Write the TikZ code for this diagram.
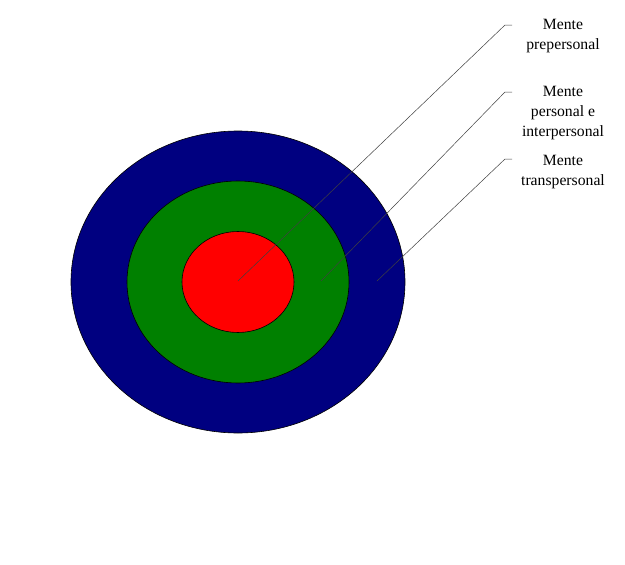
\documentclass[tikz,border=0pt]{standalone}
\usepackage{fontspec}
\setmainfont{Liberation Serif}
\usepackage{xcolor}
\definecolor{navyring}{RGB}{0,0,128}
\definecolor{greenring}{RGB}{0,128,0}
\definecolor{redring}{RGB}{255,0,0}
\begin{document}
\begin{tikzpicture}[x=1pt, y=-1pt, thin]

		\tikzset{
			ring/.style={draw=black, line width=0.6pt},
			leader/.style={draw=black!75, line width=0.5pt},
			label/.style={align=center, inner sep=0pt, anchor=base, font=\fontsize{15.7}{20}\selectfont},
		}

		\useasboundingbox (0,0) rectangle (625,565);

		\draw [ring, fill=navyring] (238,282) ellipse [x radius=167, y radius=151];
		\draw [ring, fill=greenring] (238,282) ellipse [x radius=111, y radius=101];
		\draw [ring, fill=redring] (238,282) ellipse [x radius=56, y radius=50.5];

		\coordinate (pre) at (238,281);
		\coordinate (per) at (321,281);
		\coordinate (tra) at (377,281);

		\coordinate (kpre) at (505,25);
		\coordinate (kper) at (505,92);
		\coordinate (ktra) at (505,159);

		% anchor=base sits on the last line
		\node [label] (lpre) at (563,49) {Mente\\prepersonal};
		\node [label] (lper) at (563,136) {Mente\\personal e\\interpersonal};
		\node [label] (ltra) at (563,185) {Mente\\transpersonal};

		\draw [leader] (pre) -- (kpre) -- ++(7,0);
		\draw [leader] (per) -- (kper) -- ++(7,0);
		\draw [leader] (tra) -- (ktra) -- ++(7,0);
		\end{tikzpicture}
\end{document}
